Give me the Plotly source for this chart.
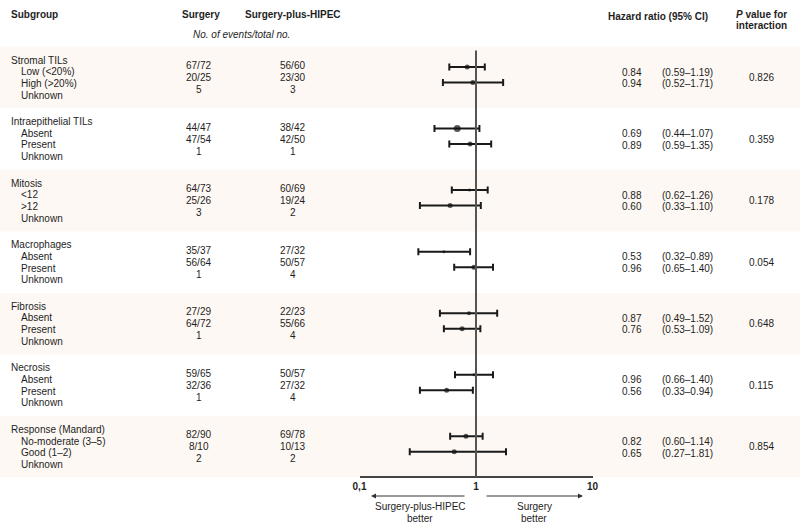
import plotly.graph_objects as go

# ---------------- data ----------------
subgroups = ["Stromal TILs", "Intraepithelial TILs", "Mitosis", "Macrophages",
             "Fibrosis", "Necrosis", "Response (Mandard)"]
levels = [["Low (<20%)", "High (>20%)", "Unknown"],
          ["Absent", "Present", "Unknown"],
          ["<12", ">12", "Unknown"],
          ["Absent", "Present", "Unknown"],
          ["Absent", "Present", "Unknown"],
          ["Absent", "Present", "Unknown"],
          ["No-moderate (3–5)", "Good (1–2)", "Unknown"]]
surgery_events = [["67/72", "20/25", "5"],
                  ["44/47", "47/54", "1"],
                  ["64/73", "25/26", "3"],
                  ["35/37", "56/64", "1"],
                  ["27/29", "64/72", "1"],
                  ["59/65", "32/36", "1"],
                  ["82/90", "8/10", "2"]]
hipec_events = [["56/60", "23/30", "3"],
                ["38/42", "42/50", "1"],
                ["60/69", "19/24", "2"],
                ["27/32", "50/57", "4"],
                ["22/23", "55/66", "4"],
                ["50/57", "27/32", "4"],
                ["69/78", "10/13", "2"]]
hr = [[0.84, 0.94], [0.69, 0.89], [0.88, 0.60], [0.53, 0.96],
      [0.87, 0.76], [0.96, 0.56], [0.82, 0.65]]
ci_low = [[0.59, 0.52], [0.44, 0.59], [0.62, 0.33], [0.32, 0.65],
          [0.49, 0.53], [0.66, 0.33], [0.60, 0.27]]
ci_high = [[1.19, 1.71], [1.07, 1.35], [1.26, 1.10], [0.89, 1.40],
           [1.52, 1.09], [1.40, 0.94], [1.14, 1.81]]
p_interaction = ["0.826", "0.359", "0.178", "0.054", "0.648", "0.115", "0.854"]
tick_vals = [0.1, 1, 10]
tick_text = ["0,1", "1", "10"]

# ---------------- style ----------------
marker_sizes = [[5, 5], [7, 5], [3, 5], [3, 5], [4, 5], [3, 5], [5, 5]]
FONT = "Liberation Sans, Arial, sans-serif"
TXT = "#1e1e1e"
BAND = "#fdf8f3"
W, H = 800, 526
G0, GSTEP = 60.0, 61.55
AXIS_Y = 477

fig = go.Figure()
ann = []
shapes = []

def px(x):
    return x / W

def text(x, y, s, anchor="left", size=10, bold=False, italic=False):
    if bold:
        s = "<b>" + s + "</b>"
    if italic:
        s = "<i>" + s + "</i>"
    ann.append(dict(x=px(x), y=y, xref="paper", yref="y", text=s, showarrow=False,
                    xanchor=anchor, yanchor="middle", borderpad=0,
                    font=dict(family=FONT, size=size, color=TXT)))

# headers
text(10, 14.3, "Subgroup", bold=True)
text(201, 14.3, "Surgery", anchor="center", bold=True)
text(292.5, 14.3, "Surgery-plus-HIPEC", anchor="center", bold=True)
text(241, 34, "No. of events/total no.", anchor="center", italic=True)
text(658, 16, "Hazard ratio (95% CI)", anchor="center", bold=True)
text(761, 14, "<i>P</i> value for", anchor="center", bold=True)
text(761, 25.5, "interaction", anchor="center", bold=True)

xs, ys, ep, em, ms = [], [], [], [], []
for k, name in enumerate(subgroups):
    g = G0 + GSTEP * k
    if k % 2 == 0:
        shapes.append(dict(type="rect", xref="paper", yref="y", x0=0, x1=1,
                           y0=g - 13.3, y1=min(g + 48.3, AXIS_Y),
                           fillcolor=BAND, line=dict(width=0), layer="below"))
    text(10, g, name)
    for j, lv in enumerate(levels[k]):
        text(20, g + 11.7 * (j + 1), lv)
    for j in range(3):
        yy = g + 5.5 + 12.0 * j
        text(198.5, yy, surgery_events[k][j], anchor="center")
        text(292.5, yy, hipec_events[k][j], anchor="center")
    for j in range(2):
        yy = g + 12 + 11.7 * j
        text(621, yy, f"{hr[k][j]:.2f}")
        text(661, yy, f"({ci_low[k][j]:.2f}–{ci_high[k][j]:.2f})")
        xs.append(hr[k][j])
        ys.append(g + 7 + 15.5 * j)
        ep.append(ci_high[k][j] - hr[k][j])
        em.append(hr[k][j] - ci_low[k][j])
        ms.append(marker_sizes[k][j])
    text(761.5, g + 17.5, p_interaction[k], anchor="center")

fig.add_trace(go.Scatter(
    x=xs, y=ys, mode="markers",
    marker=dict(color="#111111", size=ms, symbol="circle", line=dict(width=0)),
    error_x=dict(type="data", symmetric=False, array=ep, arrayminus=em,
                 color="#1a1a1a", thickness=2, width=3.5),
    hoverinfo="skip", showlegend=False))

# reference line at HR = 1
shapes.append(dict(type="line", xref="x", yref="y", x0=1, x1=1, y0=50.5, y1=AXIS_Y,
                   line=dict(color="#555555", width=2)))

# arrows below axis
ann.append(dict(x=px(371), y=496, xref="paper", yref="y", ax=95, ay=0, text="",
                showarrow=True, arrowhead=2, arrowsize=1, arrowwidth=1, arrowcolor="#333"))
ann.append(dict(x=px(583), y=496, xref="paper", yref="y", ax=-98, ay=0, text="",
                showarrow=True, arrowhead=2, arrowsize=1, arrowwidth=1, arrowcolor="#333"))
text(420, 506, "Surgery-plus-HIPEC", anchor="center")
text(420, 518, "better", anchor="center")
text(534, 506, "Surgery", anchor="center")
text(534, 518, "better", anchor="center")

fig.update_layout(
    width=W, height=H, autosize=False,
    margin=dict(l=0, r=0, t=0, b=0, pad=0, autoexpand=False),
    paper_bgcolor="white", plot_bgcolor="rgba(0,0,0,0)",
    xaxis=dict(type="log", range=[-1, 1], domain=[359.5 / W, 592.5 / W],
               anchor="free", position=(H - AXIS_Y) / H, automargin=False,
               showline=True, linecolor="#444444", linewidth=2,
               showgrid=False, zeroline=False, ticks="",
               tickvals=tick_vals, ticktext=tick_text,
               tickfont=dict(family=FONT, size=10, color=TXT, weight="bold")),
    yaxis=dict(range=[H, 0], domain=[0, 1], visible=False, showgrid=False,
               automargin=False),
    annotations=ann, shapes=shapes, showlegend=False,
)

fig.write_html("out.html",
               config={"responsive": False, "displayModeBar": False},
               post_script="document.body.style.margin='0px';"
                           "document.body.style.overflow='hidden';")
